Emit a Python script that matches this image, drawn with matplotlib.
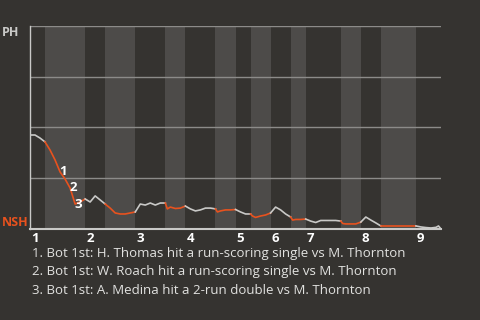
import numpy as np
import matplotlib.pyplot as plt

# play index and PH win probability (%) after each play
plays = [0, 1, 2, 3, 4, 5, 6, 7, 8, 9, 10, 11, 12, 13, 14, 15, 16, 17, 18, 19,
         20, 21, 22, 23, 24, 25, 26, 27, 27.4, 28, 29, 30, 31, 32, 33, 34, 35,
         36, 37, 37.4, 38, 39, 40, 41, 42, 43, 44, 44.4, 45, 46, 47, 48, 49, 50,
         51, 52, 52.4, 53, 54, 55, 56, 57, 58, 59, 60, 61, 62, 62.4, 63, 64, 65,
         66, 67, 68, 69, 70, 71, 72, 73, 74, 75, 76, 77, 78, 79, 80, 81, 81.5, 82]
wp = [46.3, 46.3, 44.8, 42.9, 38.9, 34.0, 28.1, 24.6, 20.2, 12.3, 13.3, 14.8,
      13.3, 16.3, 14.3, 12.3, 10.3, 7.9, 7.4, 7.4, 7.9, 8.4, 12.3, 11.8, 12.8,
      11.8, 12.8, 12.8, 9.9, 10.8, 10.1, 10.3, 11.3, 9.9, 8.9, 9.4, 10.3, 10.3,
      9.9, 8.4, 8.9, 9.4, 9.4, 9.6, 8.4, 7.4, 7.4, 6.4, 5.7, 6.4, 6.9, 7.9, 10.8,
      9.4, 7.4, 5.9, 4.4, 4.7, 4.7, 4.9, 3.9, 3.2, 4.2, 4.2, 4.2, 4.2, 3.9, 2.7,
      2.5, 2.5, 2.5, 3.4, 5.9, 4.4, 3.0, 1.5, 1.5, 1.5, 1.5, 1.5, 1.5, 1.5, 1.5,
      1.0, 0.7, 0.5, 0.8, 1.5, 0.0]

# half-inning boundaries (play index)
half_starts = [0, 3, 11, 15, 21, 27, 31, 37, 41, 44, 48, 52, 55, 62, 66, 70, 77]
game_end = 82
inning_labels = ["1", "2", "3", "4", "5", "6", "7", "8", "9"]

scoring_plays = [6, 8, 9]
scoring_marks = ["1", "2", "3"]
notes = [
    "1. Bot 1st: H. Thomas hit a run-scoring single vs M. Thornton",
    "2. Bot 1st: W. Roach hit a run-scoring single vs M. Thornton",
    "3. Bot 1st: A. Medina hit a 2-run double vs M. Thornton",
]

bg = "#353330"
band = "#4d4b49"
orange = "#e8521e"
light = "#c9c9c7"

plt.rcParams['font.family'] = ['Open Sans', 'DejaVu Sans']

fig = plt.figure(figsize=(4.8, 3.2), dpi=100, facecolor=bg)
ax = fig.add_axes([30 / 480, 91 / 320, 411 / 480, 203 / 320])
ax.set_facecolor(bg)
ax.set_xlim(0, game_end)
ax.set_ylim(0, 100)

bounds = half_starts + [game_end]
for i in range(len(half_starts)):
    if i % 2 == 1:
        ax.axvspan(bounds[i], bounds[i + 1], color=band, lw=0, zorder=0)

for g in [25, 50, 75, 100]:
    ax.axhline(g, color="#8c8b89", lw=1, zorder=1)

plays_a = np.array(plays)
wp_a = np.array(wp)
for i in range(len(half_starts)):
    lo, hi = bounds[i], bounds[i + 1]
    m = (plays_a >= lo) & (plays_a <= hi)
    col = orange if i % 2 == 1 else light
    ax.plot(plays_a[m], wp_a[m], color=col, lw=1.2, zorder=3,
            solid_joinstyle="round")

for p, s in zip(scoring_plays, scoring_marks):
    k = plays.index(p)
    ax.annotate(s, (plays[k], wp[k]), xytext=(-0.5, 0), textcoords="offset points",
                color="white", fontsize=9.5, fontweight="bold", ha="left",
                va="center", zorder=4)

for side in ["top", "right"]:
    ax.spines[side].set_visible(False)
ax.spines["left"].set_color(light)
ax.spines["bottom"].set_color(light)
ax.spines["left"].set_linewidth(1)
ax.spines["bottom"].set_linewidth(1.5)
ax.set_yticks([])
ax.set_xticks([])

for lab, x in zip(inning_labels, half_starts[::2]):
    ax.text(x + 0.2, -4.5, lab, color="white", fontsize=9.5, fontweight="bold",
            ha="left", va="center", transform=ax.transData, clip_on=False)

fig.text(2 / 480, 1 - 33 / 320, "PH", color=light, fontsize=9,
         fontweight="bold", ha="left", va="center")
fig.text(2 / 480, 1 - 222 / 320, "NSH", color=orange, fontsize=9,
         fontweight="bold", ha="left", va="center")

for j, n in enumerate(notes):
    fig.text(32 / 480, 1 - (254 + j * 18) / 320, n, color="#e2e2e0",
             fontsize=9.5, ha="left", va="center")

fig.savefig("out.png", dpi=100, facecolor=bg)
